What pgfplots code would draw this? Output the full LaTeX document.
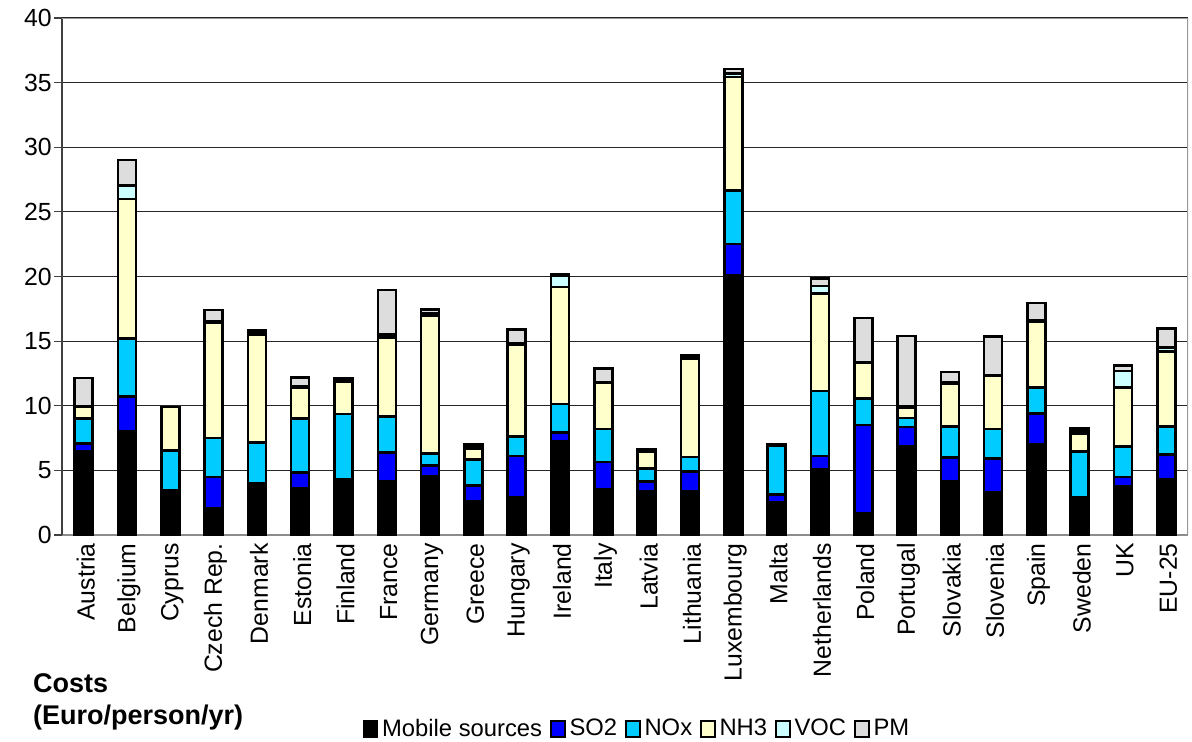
\documentclass[border=0pt]{standalone}
\usepackage{fontspec}
\setmainfont{Liberation Sans}
\usepackage{pgfplots}
\pgfplotsset{compat=1.18}
\definecolor{cNOx}{RGB}{0,204,255}
\definecolor{cNH}{RGB}{255,255,204}
\definecolor{cVOC}{RGB}{204,255,255}
\definecolor{cPM}{RGB}{221,221,221}
\begin{document}
\begin{tikzpicture}
\useasboundingbox (0,0) rectangle (596pt,-371pt);
\begin{axis}[
  at={(31pt,-267.5pt)}, anchor=south west,
  scale only axis, width=563pt, height=258.5pt,
  ybar stacked, bar width=9pt,
  xmin=-0.5, xmax=25.5, ymin=0, ymax=40,
  ytick={0,5,...,40},
  xtick={0,...,25},
  xticklabels={Austria,Belgium,Cyprus,Czech Rep.,Denmark,Estonia,Finland,France,Germany,Greece,Hungary,Ireland,Italy,Latvia,Lithuania,Luxembourg,Malta,Netherlands,Poland,Portugal,Slovakia,Slovenia,Spain,Sweden,UK,EU-25},
  x tick style={draw=none},
  y tick style={black!75, line width=0.6pt},
  tick align=outside, major tick length=4pt,
  xticklabel style={rotate=90, anchor=east, font=\fontsize{12.4}{14}\selectfont, inner sep=0pt, yshift=-1pt},
  yticklabel style={font=\fontsize{12.4}{14}\selectfont, inner sep=1pt},
  /pgf/number format/assume math mode=true,
  ymajorgrids, grid style={black!85, line width=0.6pt},
  axis x line*=bottom, axis y line*=left,
  x axis line style={black!45, line width=1.2pt},
  y axis line style={black!75, line width=1.2pt},
  every axis plot/.append style={draw=black, line width=1.3pt},
  legend style={at={(0.5115,-0.3750)}, anchor=center, draw=none, fill=none,
    legend columns=-1, font=\fontsize{11.9}{13}\selectfont,
    /tikz/every even column/.append style={column sep=2pt}},
  legend cell align=left,
  legend image code/.code={\draw[#1, line width=0.7pt] (0pt,-4pt) rectangle (7pt,4pt);},
]
\addplot[fill=black] coordinates {(0,6.5)(1,8.05)(2,3.45)(3,2.05)(4,3.97)(5,3.6)(6,4.15)(7,4.15)(8,4.55)(9,2.6)(10,2.95)(11,7.25)(12,3.55)(13,3.35)(14,3.35)(15,20.1)(16,2.5)(17,5.05)(18,1.7)(19,6.9)(20,4.15)(21,3.3)(22,7.05)(23,2.9)(24,3.75)(25,4.3)};
\addplot[fill=blue] coordinates {(0,0.6)(1,2.65)(2,0)(3,2.45)(4,0)(5,1.25)(6,0.15)(7,2.25)(8,0.85)(9,1.25)(10,3.15)(11,0.7)(12,2.1)(13,0.8)(14,1.55)(15,2.4)(16,0.65)(17,1.05)(18,6.8)(19,1.45)(20,1.85)(21,2.6)(22,2.35)(23,0.05)(24,0.75)(25,1.95)};
\addplot[fill=cNOx] coordinates {(0,1.9)(1,4.5)(2,3.1)(3,3.0)(4,3.2)(5,4.15)(6,5.05)(7,2.75)(8,0.9)(9,2.0)(10,1.5)(11,2.2)(12,2.55)(13,1.0)(14,1.15)(15,4.15)(16,3.75)(17,5.05)(18,2.05)(19,0.7)(20,2.4)(21,2.3)(22,2.0)(23,3.5)(24,2.35)(25,2.15)};
\addplot[fill=cNH] coordinates {(0,0.9)(1,10.8)(2,3.35)(3,8.95)(4,8.3)(5,2.4)(6,2.5)(7,6.15)(8,10.7)(9,0.8)(10,7.1)(11,9.05)(12,3.55)(13,1.3)(14,7.6)(15,8.8)(16,0.05)(17,7.55)(18,2.75)(19,0.8)(20,3.3)(21,4.1)(22,5.1)(23,1.4)(24,4.55)(25,5.8)};
\addplot[fill=cVOC] coordinates {(0,0.05)(1,1.05)(2,0)(3,0.05)(4,0.2)(5,0.1)(6,0.1)(7,0.2)(8,0.15)(9,0.15)(10,0.1)(11,0.85)(12,0.1)(13,0.05)(14,0.1)(15,0.25)(16,0.05)(17,0.55)(18,0.1)(19,0.1)(20,0.1)(21,0.05)(22,0.1)(23,0.2)(24,1.3)(25,0.3)};
\addplot[fill=cPM] coordinates {(0,2.2)(1,1.95)(2,0)(3,0.9)(4,0.2)(5,0.7)(6,0.15)(7,3.45)(8,0.3)(9,0.2)(10,1.1)(11,0.1)(12,1.05)(13,0.1)(14,0.15)(15,0.35)(16,0.05)(17,0.6)(18,3.4)(19,5.45)(20,0.8)(21,3.0)(22,1.35)(23,0.2)(24,0.4)(25,1.5)};
\legend{Mobile sources,SO2,NOx,NH3,VOC,PM}
\draw[black!40, line width=1.4pt] (rel axis cs:0,1) -- (rel axis cs:1,1) -- (rel axis cs:1,0);
\end{axis}
\node[anchor=west, font=\fontsize{13.5}{15}\bfseries] at (13pt,-341.5pt) {Costs};
\node[anchor=west, font=\fontsize{13.5}{15}\bfseries] at (13pt,-359pt) {(Euro/person/yr)};
\end{tikzpicture}
\end{document}
